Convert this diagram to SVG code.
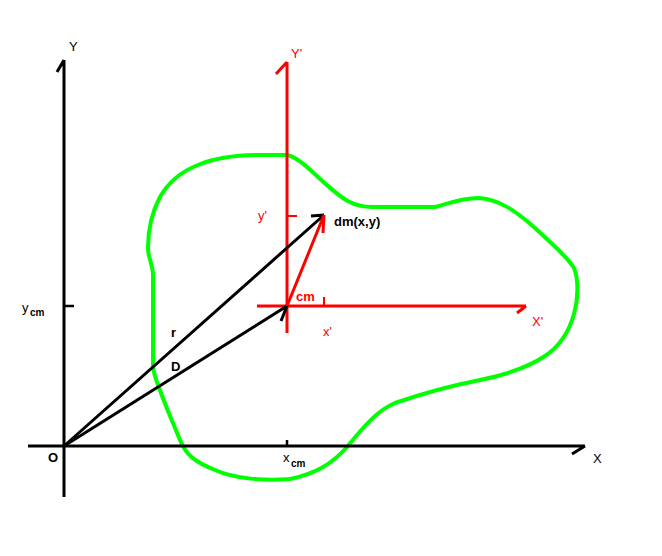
<svg xmlns="http://www.w3.org/2000/svg" width="662" height="556" viewBox="0 0 662 556">
<style>
.k{stroke:#000;stroke-width:3;fill:none;stroke-linecap:butt}
.kt{stroke:#000;stroke-width:2.5;fill:none}
.r{stroke:#f00;stroke-width:3;fill:none}
.g{stroke:#0f0;stroke-width:4;fill:none;stroke-linejoin:round}
text{font-family:"Liberation Sans",Arial,sans-serif;font-size:13px}
.b{font-weight:bold}
.red{fill:#f00}
.sub{font-size:10px;font-weight:bold}
</style>
<rect width="662" height="556" fill="#fff"/>
<g id="body">
<path class="g" d="M287,155 C300,158 312,172 328,186 C342,198 352,207 372,207 L435,207 C450,203 462,198 478,198 C498,199 515,210 535,228 C552,244 566,255 574,268 C579,280 578,300 574,314 C569,332 560,346 545,356 C530,366 510,374 480,380 C450,386 418,395 395,403 C378,410 365,425 347,447 C332,464 315,474 290,479 C265,481 235,479 215,470 C195,462 186,455 180,440 C172,420 165,405 160,390 C156,380 153,373 153,365 L153,275 C153,265 148,258 148,248 C148,230 152,212 160,197 C168,183 180,172 198,165 C215,158 235,155 260,155 Z"/>
</g>
<g id="connectors">
<g id="axis-y"><path class="k" d="M64,497 L64,60 M64,60 L57,72"/></g>
<g id="axis-x"><path class="k" d="M28,446 L585,446 M585,446 L572,454"/></g>
<path class="kt" d="M64,306 L74,306 M287,446 L287,440"/>
<g id="axis-yp"><path class="r" d="M287,333 L287,62 M287,62 L276,74"/></g>
<g id="axis-xp"><path class="r" d="M257,306 L526,306 M526,306 L517,313"/></g>
<path class="r" d="M287,216 L297,216 M324,306 L324,297" style="stroke-width:2"/>
<g id="vec-r"><path class="k" d="M64,446 L324,215 M324,215 L311,216"/></g>
<g id="vec-D"><path class="k" d="M64,446 L287,306 M287,306 L281,321"/></g>
<g id="vec-rp"><path class="r" d="M287,306 L324,215 M324,215 L323,233"/></g>
</g>
<g id="labels">
<text x="69" y="51">Y</text>
<text x="593" y="463">X</text>
<text x="48" y="462" class="b">O</text>
<text x="22" y="312">y</text><text x="30" y="316" class="sub">cm</text>
<text x="283" y="462">x</text><text x="291" y="467" class="sub">cm</text>
<text x="171" y="337" class="b">r</text>
<text x="171" y="371" class="b">D</text>
<text x="291" y="58" class="red">Y'</text>
<text x="532" y="326" class="red">X'</text>
<text x="258" y="220" class="red">y'</text>
<text x="323" y="336" class="red">x'</text>
<text x="296" y="301" class="red b">cm</text>
<text x="334" y="226" class="b">dm(x,y)</text>
</g>
</svg>
